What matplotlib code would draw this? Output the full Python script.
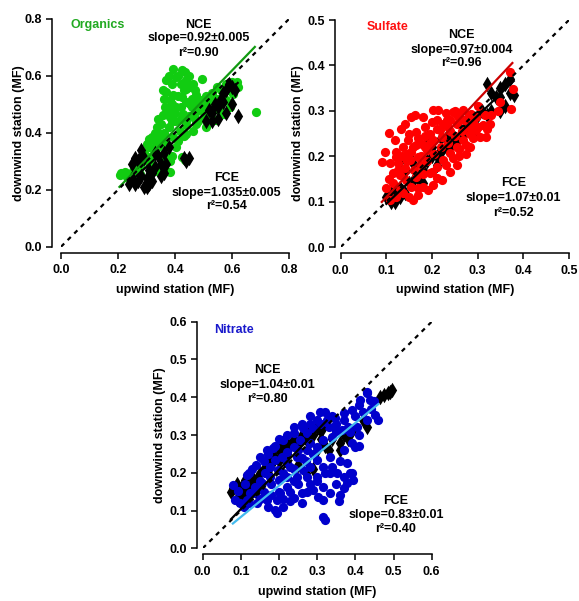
import matplotlib
matplotlib.use('Agg')
import matplotlib.pyplot as plt
import numpy as np
from matplotlib.ticker import FormatStrFormatter

plt.rcParams['font.family'] = ['Liberation Sans', 'DejaVu Sans']
plt.rcParams['font.weight'] = 'bold'
plt.rcParams['font.size'] = 9

# ---- Organics: (upwind, downwind) MF, FCE = green circles, NCE = black diamonds
org_fce = [
    (0.394, 0.626), (0.423, 0.62), (0.435, 0.614), (0.405, 0.596), (0.493, 0.59), (0.464, 0.573),
    (0.44, 0.555), (0.37, 0.544), (0.394, 0.532), (0.423, 0.526), (0.382, 0.514), (0.405, 0.49),
    (0.364, 0.49), (0.452, 0.502), (0.475, 0.532), (0.487, 0.514), (0.505, 0.496), (0.429, 0.467),
    (0.382, 0.455), (0.358, 0.461), (0.335, 0.42), (0.347, 0.396), (0.318, 0.385), (0.30, 0.361),
    (0.324, 0.344), (0.37, 0.361), (0.394, 0.385), (0.417, 0.408), (0.44, 0.426), (0.475, 0.432),
    (0.50, 0.455), (0.534, 0.479), (0.557, 0.49), (0.58, 0.514), (0.604, 0.561), (0.616, 0.579),
    (0.604, 0.538), (0.592, 0.49), (0.569, 0.467), (0.545, 0.444), (0.51, 0.42), (0.464, 0.408),
    (0.44, 0.396), (0.405, 0.349), (0.423, 0.314), (0.435, 0.305), (0.382, 0.302), (0.358, 0.285),
    (0.335, 0.267), (0.37, 0.267), (0.382, 0.261), (0.30, 0.302), (0.277, 0.279), (0.253, 0.267),
    (0.224, 0.261), (0.207, 0.253), (0.23, 0.244), (0.253, 0.232), (0.277, 0.255), (0.312, 0.314),
    (0.329, 0.332), (0.341, 0.349), (0.288, 0.326), (0.683, 0.473), (0.37, 0.585), (0.44, 0.585),
    (0.359, 0.55), (0.534, 0.526), (0.546, 0.56), (0.36, 0.40), (0.38, 0.42), (0.40, 0.44),
    (0.42, 0.45), (0.45, 0.46), (0.47, 0.47), (0.49, 0.48), (0.52, 0.50), (0.55, 0.52),
    (0.57, 0.53), (0.59, 0.55), (0.60, 0.58), (0.33, 0.37), (0.31, 0.35), (0.35, 0.43),
    (0.37, 0.47), (0.39, 0.50), (0.41, 0.53), (0.43, 0.55), (0.45, 0.56), (0.47, 0.55),
    (0.41, 0.60), (0.39, 0.57), (0.46, 0.52), (0.48, 0.44), (0.52, 0.46), (0.56, 0.47),
    (0.41, 0.37), (0.43, 0.39), (0.39, 0.32), (0.26, 0.28), (0.24, 0.25), (0.21, 0.26),
    (0.32, 0.29), (0.36, 0.32), (0.28, 0.30), (0.29, 0.33), (0.31, 0.38), (0.33, 0.40),
    (0.34, 0.45), (0.36, 0.52), (0.38, 0.48), (0.40, 0.47), (0.42, 0.49), (0.44, 0.51),
    (0.46, 0.49), (0.48, 0.50), (0.50, 0.51), (0.51, 0.53), (0.53, 0.54), (0.56, 0.55),
    (0.58, 0.57), (0.62, 0.56), (0.42, 0.57), (0.45, 0.60), (0.38, 0.60), (0.35, 0.38),
    (0.44, 0.44), (0.47, 0.45), (0.53, 0.49), (0.39, 0.44),
]
org_nce = [
    (0.24, 0.22), (0.25, 0.24), (0.26, 0.31), (0.27, 0.30), (0.28, 0.32), (0.29, 0.31),
    (0.25, 0.29), (0.27, 0.23), (0.29, 0.21), (0.30, 0.24), (0.31, 0.22), (0.32, 0.26),
    (0.33, 0.28), (0.28, 0.34), (0.30, 0.21), (0.32, 0.23), (0.34, 0.32), (0.35, 0.25),
    (0.36, 0.26), (0.37, 0.29), (0.36, 0.33), (0.38, 0.35), (0.43, 0.31), (0.44, 0.30),
    (0.45, 0.31), (0.51, 0.44), (0.52, 0.48), (0.53, 0.47), (0.54, 0.50), (0.55, 0.49),
    (0.56, 0.52), (0.57, 0.54), (0.58, 0.55), (0.59, 0.57), (0.60, 0.56), (0.61, 0.55),
    (0.57, 0.51), (0.55, 0.45), (0.58, 0.47), (0.62, 0.46), (0.60, 0.50), (0.53, 0.44),
    (0.35, 0.29), (0.33, 0.33), (0.31, 0.27), (0.26, 0.22), (0.28, 0.25),
]

# ---- Sulfate
sul_fce = [
    (0.09, 0.188), (0.106, 0.251), (0.097, 0.21), (0.108, 0.184), (0.115, 0.162), (0.122, 0.199),
    (0.13, 0.158), (0.14, 0.173), (0.133, 0.261), (0.155, 0.287), (0.163, 0.29), (0.181, 0.287),
    (0.203, 0.301), (0.213, 0.301), (0.184, 0.265), (0.166, 0.254), (0.148, 0.235), (0.137, 0.221),
    (0.122, 0.21), (0.159, 0.221), (0.177, 0.228), (0.195, 0.25), (0.217, 0.257), (0.232, 0.279),
    (0.246, 0.298), (0.268, 0.301), (0.286, 0.294), (0.297, 0.287), (0.254, 0.272), (0.236, 0.265),
    (0.221, 0.243), (0.203, 0.235), (0.188, 0.213), (0.17, 0.199), (0.152, 0.191), (0.144, 0.147),
    (0.155, 0.132), (0.137, 0.118), (0.122, 0.11), (0.108, 0.103), (0.159, 0.103), (0.17, 0.114),
    (0.181, 0.132), (0.195, 0.162), (0.21, 0.176), (0.224, 0.191), (0.239, 0.206), (0.254, 0.221),
    (0.268, 0.235), (0.283, 0.25), (0.297, 0.257), (0.312, 0.268), (0.327, 0.272), (0.305, 0.243),
    (0.283, 0.221), (0.221, 0.147), (0.21, 0.151), (0.203, 0.136), (0.192, 0.125), (0.239, 0.165),
    (0.254, 0.18), (0.319, 0.243), (0.374, 0.305), (0.378, 0.349), (0.37, 0.386), (0.16, 0.17),
    (0.175, 0.18), (0.19, 0.19), (0.205, 0.205), (0.22, 0.22), (0.235, 0.23), (0.25, 0.245),
    (0.265, 0.255), (0.28, 0.265), (0.29, 0.275), (0.26, 0.285), (0.24, 0.255), (0.2, 0.275),
    (0.17, 0.24), (0.15, 0.25), (0.125, 0.185), (0.145, 0.205), (0.165, 0.155), (0.18, 0.16),
    (0.3, 0.31), (0.315, 0.29), (0.275, 0.205), (0.26, 0.2), (0.13, 0.125), (0.345, 0.3),
    (0.10, 0.13), (0.105, 0.15), (0.115, 0.14), (0.125, 0.17), (0.135, 0.2), (0.145, 0.19),
    (0.155, 0.21), (0.165, 0.225), (0.175, 0.2), (0.185, 0.22), (0.195, 0.23), (0.21, 0.26),
    (0.225, 0.27), (0.24, 0.28), (0.255, 0.29), (0.27, 0.28), (0.28, 0.29), (0.185, 0.245),
    (0.21, 0.28), (0.23, 0.295), (0.25, 0.3), (0.14, 0.27), (0.12, 0.235), (0.29, 0.24),
    (0.3, 0.265), (0.32, 0.26), (0.33, 0.29), (0.35, 0.32), (0.2, 0.165), (0.17, 0.13),
    (0.15, 0.11), (0.23, 0.18), (0.245, 0.195), (0.26, 0.215), (0.275, 0.225),
]
sul_nce = [
    (0.10, 0.11), (0.11, 0.10), (0.12, 0.12), (0.11, 0.12), (0.13, 0.11), (0.12, 0.10),
    (0.14, 0.12), (0.13, 0.13), (0.15, 0.14), (0.16, 0.15), (0.17, 0.15), (0.14, 0.17),
    (0.16, 0.18), (0.18, 0.17), (0.19, 0.19), (0.20, 0.20), (0.21, 0.20), (0.20, 0.22),
    (0.22, 0.21), (0.23, 0.22), (0.24, 0.23), (0.25, 0.23), (0.24, 0.22), (0.23, 0.24),
    (0.22, 0.24), (0.26, 0.24), (0.27, 0.26), (0.28, 0.27), (0.29, 0.28), (0.30, 0.29),
    (0.31, 0.30), (0.32, 0.36), (0.33, 0.34), (0.34, 0.33), (0.35, 0.35), (0.36, 0.36),
    (0.35, 0.33), (0.36, 0.31), (0.35, 0.30), (0.37, 0.34), (0.38, 0.335), (0.32, 0.29),
    (0.33, 0.30), (0.37, 0.37), (0.19, 0.24), (0.15, 0.20), (0.13, 0.19), (0.21, 0.18),
    (0.27, 0.25), (0.29, 0.25), (0.18, 0.14),
]

# ---- Nitrate
nit_fce = [
    (0.079, 0.168), (0.085, 0.128), (0.098, 0.119), (0.093, 0.153), (0.115, 0.194), (0.124, 0.146),
    (0.137, 0.163), (0.15, 0.177), (0.163, 0.199), (0.176, 0.216), (0.19, 0.234), (0.207, 0.243),
    (0.22, 0.256), (0.238, 0.269), (0.255, 0.287), (0.272, 0.304), (0.29, 0.318), (0.307, 0.362),
    (0.325, 0.34), (0.347, 0.344), (0.369, 0.357), (0.39, 0.366), (0.412, 0.393), (0.431, 0.41),
    (0.438, 0.393), (0.452, 0.353), (0.46, 0.34), (0.43, 0.34), (0.403, 0.322), (0.386, 0.309),
    (0.364, 0.313), (0.338, 0.296), (0.316, 0.287), (0.299, 0.269), (0.272, 0.26), (0.246, 0.243),
    (0.22, 0.225), (0.198, 0.207), (0.176, 0.19), (0.155, 0.172), (0.133, 0.146), (0.115, 0.128),
    (0.107, 0.11), (0.141, 0.119), (0.168, 0.128), (0.19, 0.101), (0.194, 0.093), (0.211, 0.11),
    (0.229, 0.124), (0.238, 0.132), (0.259, 0.146), (0.272, 0.15), (0.29, 0.154), (0.303, 0.137),
    (0.316, 0.128), (0.316, 0.084), (0.321, 0.075), (0.334, 0.146), (0.356, 0.124), (0.36, 0.141),
    (0.369, 0.159), (0.377, 0.172), (0.395, 0.181), (0.386, 0.199), (0.351, 0.199), (0.334, 0.199),
    (0.316, 0.216), (0.338, 0.216), (0.377, 0.225), (0.334, 0.243), (0.369, 0.26), (0.40, 0.269),
    (0.299, 0.234), (0.281, 0.216), (0.263, 0.207), (0.246, 0.19), (0.238, 0.177), (0.22, 0.163),
    (0.203, 0.146), (0.194, 0.128), (0.272, 0.19), (0.299, 0.177), (0.316, 0.163), (0.229, 0.216),
    (0.211, 0.199), (0.168, 0.26), (0.15, 0.243), (0.185, 0.265), (0.211, 0.287), (0.238, 0.304),
    (0.264, 0.318), (0.28, 0.33), (0.25, 0.26), (0.18, 0.17), (0.16, 0.15), (0.2, 0.18),
    (0.11, 0.17), (0.12, 0.2), (0.13, 0.21), (0.14, 0.22), (0.16, 0.23), (0.17, 0.25),
    (0.19, 0.27), (0.2, 0.29), (0.22, 0.3), (0.24, 0.32), (0.26, 0.33), (0.28, 0.35),
    (0.3, 0.34), (0.32, 0.36), (0.34, 0.35), (0.35, 0.33), (0.37, 0.34), (0.38, 0.32),
    (0.4, 0.35), (0.41, 0.38), (0.42, 0.36), (0.44, 0.37), (0.45, 0.39), (0.43, 0.415),
    (0.39, 0.28), (0.41, 0.3), (0.35, 0.31), (0.33, 0.32), (0.31, 0.33), (0.28, 0.28),
    (0.26, 0.24), (0.24, 0.21), (0.22, 0.19), (0.2, 0.15), (0.18, 0.14), (0.17, 0.11),
    (0.21, 0.13), (0.25, 0.17), (0.28, 0.17), (0.3, 0.19), (0.32, 0.2), (0.35, 0.17),
    (0.37, 0.19), (0.39, 0.2), (0.41, 0.27), (0.36, 0.23), (0.27, 0.23), (0.29, 0.25),
    (0.12, 0.12), (0.15, 0.13), (0.23, 0.15), (0.26, 0.12),
]
nit_nce = [
    (0.075, 0.15), (0.08, 0.16), (0.09, 0.17), (0.10, 0.14), (0.10, 0.16), (0.11, 0.15),
    (0.11, 0.18), (0.12, 0.16), (0.12, 0.13), (0.13, 0.17), (0.13, 0.19), (0.14, 0.18),
    (0.14, 0.15), (0.15, 0.20), (0.15, 0.17), (0.16, 0.21), (0.17, 0.20), (0.18, 0.22),
    (0.18, 0.25), (0.19, 0.24), (0.20, 0.26), (0.20, 0.23), (0.21, 0.27), (0.22, 0.25),
    (0.22, 0.28), (0.23, 0.27), (0.24, 0.29), (0.25, 0.28), (0.26, 0.30), (0.27, 0.29),
    (0.28, 0.31), (0.29, 0.30), (0.30, 0.32), (0.31, 0.31), (0.32, 0.33), (0.31, 0.29),
    (0.32, 0.27), (0.33, 0.26), (0.34, 0.29), (0.36, 0.28), (0.37, 0.30), (0.38, 0.29),
    (0.39, 0.31), (0.36, 0.26), (0.42, 0.34), (0.43, 0.32), (0.465, 0.40), (0.475, 0.405),
    (0.485, 0.41), (0.49, 0.415), (0.495, 0.418), (0.27, 0.20), (0.25, 0.22), (0.30, 0.26),
    (0.09, 0.13), (0.17, 0.24), (0.29, 0.21),
]

# fit lines: slope, intercept, x start, x end
org_fce_fit = (1.035, -0.002, 0.205, 0.68)
org_nce_fit = (0.92, 0.005, 0.24, 0.62)
sul_fce_fit = (1.07, 0.003, 0.09, 0.376)
sul_nce_fit = (0.97, -0.002, 0.10, 0.379)
nit_fce_fit = (0.83, 0.0, 0.079, 0.46)
nit_nce_fit = (1.04, 0.0, 0.074, 0.325)


def draw_panel(ax, fce, nce, fce_fit, nce_fit, lim, step, dot_col, fce_line_col,
               nce_line_col, left_off, black_on_top=False):
    fx, fy = np.array(fce).T
    nx, ny = np.array(nce).T
    ax.scatter(nx, ny, marker='d', s=62, color='black', linewidths=0,
               zorder=3 if black_on_top else 2)
    ax.scatter(fx, fy, marker='o', s=44, color=dot_col, linewidths=0, zorder=2.5)
    for (m, b, x0, x1), c in ((fce_fit, fce_line_col), (nce_fit, nce_line_col)):
        xs = np.array([x0, x1])
        ax.plot(xs, m * xs + b, color=c, lw=1.6, zorder=4)
    ax.plot([0, lim], [0, lim], color='black', lw=1.6, ls=(0, (2, 2.2)), zorder=5)

    ax.set_xlim(0, lim)
    ax.set_ylim(0, lim)
    ticks = np.arange(0, lim + step / 2, step)
    ax.set_xticks(ticks)
    ax.set_yticks(ticks)
    ax.xaxis.set_major_formatter(FormatStrFormatter('%.1f'))
    ax.yaxis.set_major_formatter(FormatStrFormatter('%.1f'))
    for s in ('top', 'right'):
        ax.spines[s].set_visible(False)
    ax.spines['left'].set_position(('outward', left_off))
    ax.spines['bottom'].set_position(('outward', 4.3))
    ax.spines['left'].set_bounds(0, lim)
    ax.spines['bottom'].set_bounds(0, lim)
    for s in ('left', 'bottom'):
        ax.spines[s].set_linewidth(1.1)
    ax.tick_params(direction='out', length=4.5, width=1.1, labelsize=9)
    ax.tick_params(axis='x', pad=4)
    ax.tick_params(axis='y', pad=2.5)
    ax.set_xlabel('upwind station (MF)', fontsize=9, fontweight='bold')
    ax.set_ylabel('downwind station (MF)', fontsize=9, fontweight='bold')
    ax.xaxis.set_label_coords(0.5, -0.165)
    ax.yaxis.set_label_coords(-0.16, 0.5)


def stat_text(ax, x, ys, lines):
    for y, t in zip(ys, lines):
        ax.text(x, y, t, ha='center', va='center', fontsize=9, fontweight='bold')


fig = plt.figure(figsize=(5.79, 6.01), dpi=100)

ax1 = fig.add_axes([0.1054, 0.5895, 0.3938, 0.3789])
draw_panel(ax1, org_fce, org_nce, org_fce_fit, org_nce_fit, 0.8, 0.2,
           '#11CC11', '#109A10', 'black', 6.8, black_on_top=True)
ax1.text(0.032, 0.78, 'Organics', color='#22AA22', ha='left', va='center', fontsize=9)
stat_text(ax1, 0.483, [0.78, 0.732, 0.682], ['NCE', 'slope=0.92\u00b10.005', 'r\u00b2=0.90'])
stat_text(ax1, 0.581, [0.242, 0.189, 0.142], ['FCE', 'slope=1.035\u00b10.005', 'r\u00b2=0.54'])

ax2 = fig.add_axes([0.5884, 0.589, 0.3943, 0.3777])
draw_panel(ax2, sul_fce, sul_nce, sul_fce_fit, sul_nce_fit, 0.5, 0.1,
           '#FF0000', '#CC0000', 'black', 4.3)
ax2.text(0.0576, 0.485, 'Sulfate', color='#FF1010', ha='left', va='center', fontsize=9)
stat_text(ax2, 0.265, [0.467, 0.435, 0.405], ['NCE', 'slope=0.97\u00b10.004', 'r\u00b2=0.96'])
stat_text(ax2, 0.378, [0.140, 0.107, 0.076], ['FCE', 'slope=1.07\u00b10.01', 'r\u00b2=0.52'])

ax3 = fig.add_axes([0.3501, 0.0877, 0.3955, 0.377])
draw_panel(ax3, nit_fce, nit_nce, nit_fce_fit, nit_nce_fit, 0.6, 0.1,
           '#0000CC', '#44BBEE', 'black', 4.3)
ax3.text(0.0296, 0.578, 'Nitrate', color='#1A1ACC', ha='left', va='center', fontsize=9)
stat_text(ax3, 0.169, [0.472, 0.432, 0.395], ['NCE', 'slope=1.04\u00b10.01', 'r\u00b2=0.80'])
stat_text(ax3, 0.506, [0.125, 0.088, 0.050], ['FCE', 'slope=0.83\u00b10.01', 'r\u00b2=0.40'])

fig.savefig('out.png', dpi=100)
